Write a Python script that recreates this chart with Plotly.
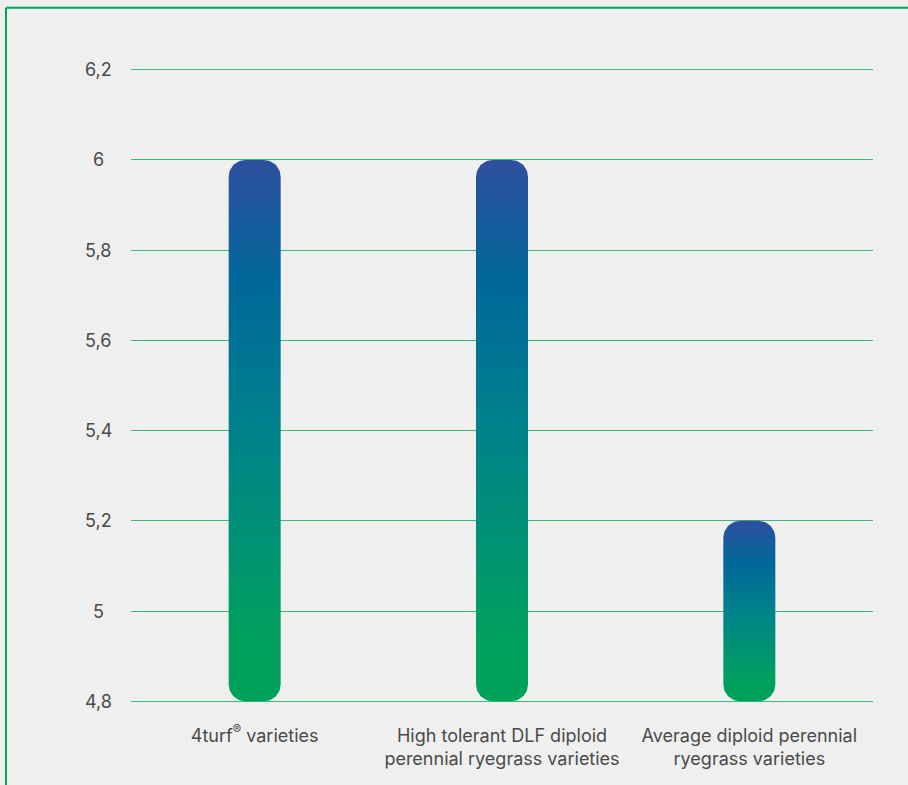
import numpy as np
import plotly.graph_objects as go

# ---- data ----
categories = ["4turf<sup>®</sup> varieties",
              "High tolerant DLF diploid<br>perennial ryegrass varieties",
              "Average diploid perennial<br>ryegrass varieties"]
values = [6.0, 6.0, 5.2]
baseline = 4.8
tick_vals = [4.8, 5.0, 5.2, 5.4, 5.6, 5.8, 6.0, 6.2]
tick_text = ["4,8", "5", "5,2", "5,4", "5,6", "5,8", "6", "6,2"]

# ---- layout constants ----
W, H = 908, 785
PLOT_L, PLOT_R, PLOT_T, PLOT_B = 131, 873, 70, 701   # pixel box of 4.8..6.2
XR = [-0.5, 2.5]
YR = [4.8, 6.2]
PAD = 0.006
px_x = (PLOT_R - PLOT_L) / (XR[1] - XR[0])
px_y = (PLOT_B - PLOT_T) / (YR[1] - YR[0])
pad_px = PAD * px_y
ML, MR = PLOT_L, W - PLOT_R
MT, MB = PLOT_T - pad_px, H - PLOT_B - pad_px
PW, PH = W - ML - MR, H - MT - MB
bar_w_px = 52
rad_px = 17

grad = [[0.0, "#00a25a"], [0.12, "#00a05f"], [0.5, "#00828b"],
        [0.77, "#00689a"], [1.0, "#2e4f9e"]]


def rounded_bar(cx, y0, y1):
    hw = bar_w_px / 2 / px_x
    rx = rad_px / px_x
    ry = rad_px / px_y
    xs, ys = [], []
    corners = [
        (cx + hw - rx, y0 + ry, -np.pi / 2, 0),
        (cx + hw - rx, y1 - ry, 0, np.pi / 2),
        (cx - hw + rx, y1 - ry, np.pi / 2, np.pi),
        (cx - hw + rx, y0 + ry, np.pi, 3 * np.pi / 2),
    ]
    for (ccx, ccy, a0, a1) in corners:
        t = np.linspace(a0, a1, 16)
        xs += list(ccx + rx * np.cos(t))
        ys += list(ccy + ry * np.sin(t))
    xs.append(xs[0]); ys.append(ys[0])
    return xs, ys


fig = go.Figure()
for i, v in enumerate(values):
    xs, ys = rounded_bar(i, baseline, v)
    fig.add_trace(go.Scatter(
        x=xs, y=ys, mode="lines", fill="toself",
        line=dict(width=0, color="rgba(0,0,0,0)"),
        fillgradient=dict(type="vertical", colorscale=grad, start=baseline, stop=v),
        hoverinfo="skip", showlegend=False))

font_fam = "Inter, 'Noto Sans', Arial, sans-serif"
txt_col = "#4a4a4a"

annotations = []
for tv, tt in zip(tick_vals, tick_text):
    annotations.append(dict(x=0, y=tv, xref="paper", yref="y", text=tt,
                            showarrow=False, xanchor="center", yanchor="middle",
                            xshift=-33, font=dict(size=18, color=txt_col, family=font_fam)))

green = "#00a859"
y_top = (H - MB - 8) / PH
x_left = (6 - ML) / PW
shapes = [
    dict(type="line", xref="paper", yref="paper", x0=x_left, x1=1.2, y0=y_top, y1=y_top,
         line=dict(color=green, width=2), layer="above"),
    dict(type="line", xref="paper", yref="paper", x0=x_left, x1=x_left, y0=y_top, y1=-0.3,
         line=dict(color=green, width=2), layer="above"),
]

fig.update_layout(
    width=W, height=H,
    margin=dict(l=ML, r=MR, t=MT, b=MB, pad=0),
    paper_bgcolor="#efefef", plot_bgcolor="#efefef",
    font=dict(family=font_fam, color=txt_col),
    xaxis=dict(range=XR, tickvals=[0, 1, 2], ticktext=categories,
               showgrid=False, zeroline=False, showline=False, ticks="",
               tickfont=dict(size=18, color=txt_col, family=font_fam),
               ticklabelstandoff=19, fixedrange=True),
    yaxis=dict(range=[YR[0] - PAD, YR[1] + PAD], tickvals=tick_vals, showticklabels=False,
               showgrid=True, gridcolor="#3cb878", gridwidth=1,
               zeroline=False, showline=False, ticks="", fixedrange=True),
    annotations=annotations,
    shapes=shapes,
    showlegend=False,
)

fig.write_html("out.html", config={"displayModeBar": False},
               post_script="document.body.style.margin='0';document.body.style.overflow='hidden';")
